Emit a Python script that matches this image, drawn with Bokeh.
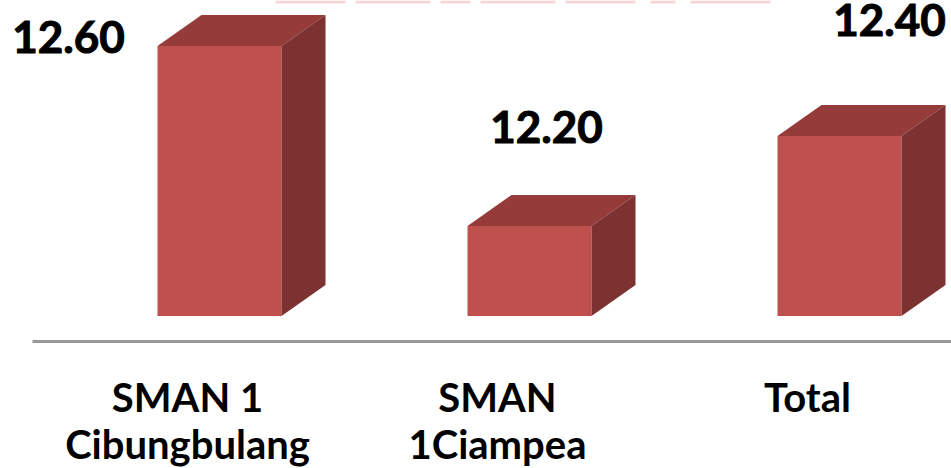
from bokeh.plotting import figure
from bokeh.models import Range1d, FixedTicker, LinearAxis
from bokeh.core.properties import value
from bokeh.embed import file_html
from bokeh.resources import INLINE
import numpy as np

categories = ["SMAN 1\nCibungbulang", "SMAN\n1Ciampea", "Total"]
values = [12.60, 12.20, 12.40]
value_labels = ["12.60", "12.20", "12.40"]

W, H = 951, 468
AXIS_Y = 341
PX_X = 310.0      # px per category
PX_Y = 450.0      # px per unit
X0 = 219.0        # px of first category centre
BASE_Y = 315.5    # px of y=12
dx = 44 / PX_X    # 3D depth
dy = 31 / PX_Y
hw = 62 / PX_X
base = 12.0
y_top = base + BASE_Y / PX_Y

p = figure(width=W, height=H, output_backend="svg", toolbar_location=None,
           x_range=Range1d(-X0 / PX_X, (W - X0) / PX_X),
           y_range=Range1d(base - (H - BASE_Y) / PX_Y, y_top),
           min_border_left=0, min_border_right=0, min_border_top=0, min_border_bottom=0,
           x_axis_location=None, y_axis_location=None, outline_line_color=None)
p.grid.visible = False
p.background_fill_color = "white"

x = np.arange(len(values), dtype=float)
v = np.array(values)

# pale pink remnants along the top edge of the picture
smudge_l = (np.array([275, 355, 440, 480, 565, 650, 690]) - X0) / PX_X
smudge_r = (np.array([345, 430, 470, 555, 635, 675, 770]) - X0) / PX_X
p.quad(left=smudge_l, right=smudge_r, top=y_top, bottom=y_top - 3 / PX_Y,
       fill_color="#f4a0a0", fill_alpha=0.45, line_color=None)

# front faces
p.vbar(x=x, top=v, bottom=base, width=2 * hw, fill_color="#c0504d", line_color=None)
# top faces
p.patches([[a - hw, a - hw + dx, a + hw + dx, a + hw] for a in x],
          [[t, t + dy, t + dy, t] for t in v], fill_color="#953c3a", line_color=None)
# side faces
p.patches([[a + hw, a + hw + dx, a + hw + dx, a + hw] for a in x],
          [[base, base + dy, t + dy, t] for t in v], fill_color="#7b3231", line_color=None)

# value labels
lab_dx = np.array([-151, 17, 50]) / PX_X
lab_dy = np.array([9, 99, 116]) / PX_Y
p.text(x=x + lab_dx, y=v + lab_dy, text=value_labels, text_align="center",
       text_baseline="alphabetic", text_font=value("Lato"), text_font_style="bold",
       text_font_size="44px", text_color="black", text_outline_color="black")

tick_pos = x - 32 / PX_X
ax = LinearAxis(ticker=FixedTicker(ticks=list(tick_pos)),
                major_label_overrides={float(t): c for t, c in zip(tick_pos, categories)},
                bounds=(-(X0 - 32) / PX_X, (W - X0) / PX_X),
                fixed_location=base - (AXIS_Y - BASE_Y) / PX_Y)
ax.axis_line_color = "#999999"
ax.axis_line_width = 3
ax.major_tick_line_color = None
ax.minor_tick_line_color = None
ax.major_label_text_font = "Lato"
ax.major_label_text_font_style = "bold"
ax.major_label_text_font_size = "40px"
ax.major_label_text_color = "black"
ax.major_label_text_line_height = 0.98
ax.major_label_standoff = 25
p.add_layout(ax, "below")

open("out.html", "w").write(file_html(p, INLINE))
